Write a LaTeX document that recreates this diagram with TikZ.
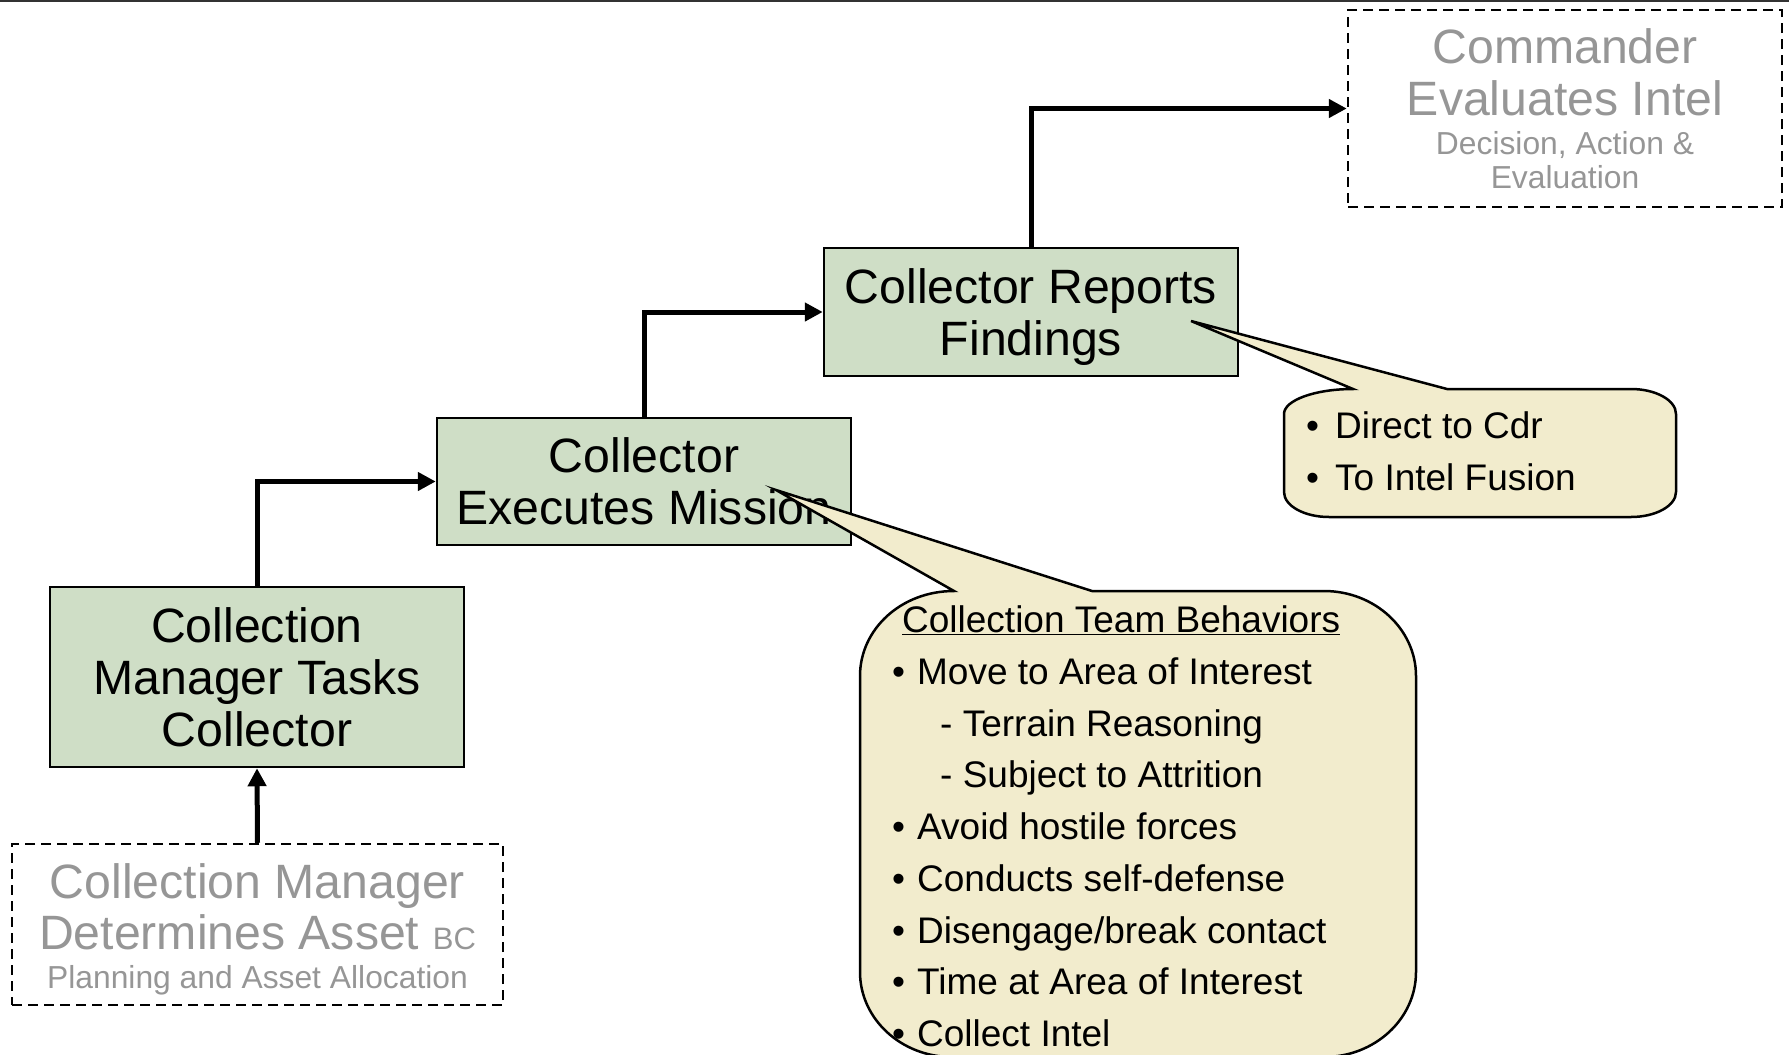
\documentclass[tikz,border=0pt]{standalone}
\usepackage{fontspec}
\setmainfont{Liberation Sans}
\usetikzlibrary{arrows.meta}

\definecolor{boxgreen}{RGB}{207,222,198}
\definecolor{notefill}{RGB}{242,236,205}
\definecolor{faded}{RGB}{150,150,150}
\definecolor{rulegray}{RGB}{51,51,51}

\newcommand{\bul}[1]{\textbullet\hskip #1}

\tikzset{
  stepbox/.style={draw=black, line width=2.5pt, fill=boxgreen, inner sep=0pt,
    minimum width=414pt, align=center, font=\fontsize{48.2}{52}\selectfont},
  plannedbox/.style={draw=black, line width=2.5pt, dash pattern=on 10pt off 6pt,
    inner sep=0pt},
  fadedbig/.style={text=faded, inner sep=0pt, anchor=base, font=\fontsize{48.2}{52}\selectfont},
  fadedsmall/.style={text=faded, inner sep=0pt, anchor=base, font=\fontsize{31.8}{34}\selectfont},
  flow/.style={line width=5pt, -{Triangle[length=18pt,width=18pt]}},
  note/.style={draw=black, line width=2.5pt, fill=notefill},
  noteline/.style={inner sep=0pt, anchor=base west, font=\fontsize{37}{44}\selectfont},
}

\begin{document}
\begin{tikzpicture}[x=1pt,y=-1pt]
\useasboundingbox (0,0) rectangle (1789,1055);

% rule along the top edge
\draw[rulegray, line width=1.5pt] (0,0.75) -- (1789,0.75);

% process steps
\node[stepbox, minimum height=180pt] (tasks) at (257,677) {Collection\\Manager Tasks\\Collector};
\node[stepbox, minimum height=127pt] (exec) at (644,481.5) {Collector\\Executes Mission};
\node[stepbox, minimum height=128pt, text depth=0pt] (report) at (1031,312) {Collector Reports\\Findings};

% planned (dashed) steps
\node[plannedbox, minimum width=491pt, minimum height=161pt] (plan) at (257.5,924.5) {};
\node[fadedbig] (plan1) at (257.5,898) {Collection Manager};
\node[fadedbig] (plan2) at (257.5,949) {Determines Asset {\fontsize{31}{34}\selectfont BC}};
\node[fadedsmall] (plan3) at (257.5,988) {Planning and Asset Allocation};

\node[plannedbox, minimum width=434pt, minimum height=197pt] (cmdr) at (1565,108.5) {};
\node[fadedbig] (cmdr1) at (1565,63) {Commander};
\node[fadedbig] (cmdr2) at (1565,115) {Evaluates Intel};
\node[fadedsmall] (cmdr3) at (1565,154) {Decision, Action \&};
\node[fadedsmall] (cmdr4) at (1565,188) {Evaluation};

% flow connectors
\draw[flow] (plan.north) -- (tasks.south);
\draw[flow] (tasks.north) |- (exec.west);
\draw[flow] (exec.north) |- (report.west);
\draw[flow] (report.north) |- (cmdr.west);

% callout for the reporting step
\coordinate (tipB) at (1191,321);
\draw[note] (1353,389) -- (tipB) -- (1447,389) -- (1631,389)
  .. controls (1655.8,389) and (1676,400.2) .. (1676,414)
  -- (1676,492)
  .. controls (1676,505.8) and (1655.8,517) .. (1631,517)
  -- (1329,517)
  .. controls (1304.2,517) and (1284,505.8) .. (1284,492)
  -- (1284,414)
  .. controls (1284,400.2) and (1315,389) .. cycle;
\node[noteline] (r1) at (1306,438) {\bul{16pt}Direct to Cdr};
\node[noteline] (r2) at (1306,490) {\bul{16pt}To Intel Fusion};

% callout for the mission step
\coordinate (tipA) at (776,490);
\draw[note] (954,591) -- (tipA) -- (1092,591) -- (1324,591)
  .. controls (1374.8,591) and (1416,629.1) .. (1416,676)
  -- (1416,972)
  .. controls (1416,1018.9) and (1374.8,1057) .. (1324,1057)
  -- (952,1057)
  .. controls (901.2,1057) and (860,1018.9) .. (860,972)
  -- (860,676)
  .. controls (860,629.1) and (901.2,591) .. cycle;
\node[noteline] (m0) at (902,632) {\underline{Collection Team Behaviors}};
\node[noteline] (m1) at (892,684) {\bul{12pt}Move to Area of Interest};
\node[noteline] (m2) at (940,736) {- Terrain Reasoning};
\node[noteline] (m3) at (940,787) {- Subject to Attrition};
\node[noteline] (m4) at (892,839) {\bul{12pt}Avoid hostile forces};
\node[noteline] (m5) at (892,891) {\bul{12pt}Conducts self-defense};
\node[noteline] (m6) at (892,943) {\bul{12pt}Disengage/break contact};
\node[noteline] (m7) at (892,994) {\bul{12pt}Time at Area of Interest};
\node[noteline] (m8) at (892,1046) {\bul{12pt}Collect Intel};
\end{tikzpicture}
\end{document}
